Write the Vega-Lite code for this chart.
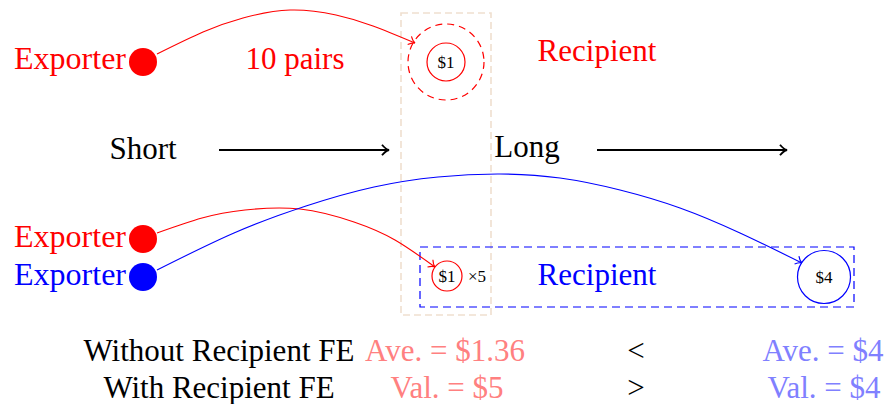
{
  "$schema": "https://vega.github.io/schema/vega-lite/v6.json",
  "width": 891,
  "height": 404,
  "autosize": {"type": "fit", "contains": "padding"},
  "padding": 0,
  "background": "white",
  "config": {"view": {"stroke": null}, "text": {"font": "Liberation Serif"}},
  "datasets": {
    "boxes": [
      {"box": "long window", "x": 401, "x2": 491, "y": 13, "y2": 315},
      {"box": "recipient group", "x": 420, "x2": 854, "y": 247, "y2": 307}
    ],
    "curves": [
      {"curve": "pairs", "tone": "red", "t": 0, "x": 157, "y": 54},
      {"curve": "pairs", "tone": "red", "t": 1, "x": 203, "y": 32},
      {"curve": "pairs", "tone": "red", "t": 2, "x": 243, "y": 18},
      {"curve": "pairs", "tone": "red", "t": 3, "x": 290, "y": 10},
      {"curve": "pairs", "tone": "red", "t": 4, "x": 336, "y": 15},
      {"curve": "pairs", "tone": "red", "t": 5, "x": 373, "y": 26},
      {"curve": "pairs", "tone": "red", "t": 6, "x": 415, "y": 43},
      {"curve": "short", "tone": "red", "t": 0, "x": 157, "y": 233},
      {"curve": "short", "tone": "red", "t": 1, "x": 202, "y": 218},
      {"curve": "short", "tone": "red", "t": 2, "x": 245, "y": 210},
      {"curve": "short", "tone": "red", "t": 3, "x": 300, "y": 209},
      {"curve": "short", "tone": "red", "t": 4, "x": 354, "y": 222},
      {"curve": "short", "tone": "red", "t": 5, "x": 395, "y": 240},
      {"curve": "short", "tone": "red", "t": 6, "x": 435, "y": 267},
      {"curve": "long", "tone": "blue", "t": 0, "x": 157, "y": 270},
      {"curve": "long", "tone": "blue", "t": 1, "x": 234, "y": 233},
      {"curve": "long", "tone": "blue", "t": 2, "x": 306, "y": 206},
      {"curve": "long", "tone": "blue", "t": 3, "x": 374, "y": 187},
      {"curve": "long", "tone": "blue", "t": 4, "x": 438, "y": 177},
      {"curve": "long", "tone": "blue", "t": 5, "x": 500, "y": 174},
      {"curve": "long", "tone": "blue", "t": 6, "x": 560, "y": 178},
      {"curve": "long", "tone": "blue", "t": 7, "x": 620, "y": 190},
      {"curve": "long", "tone": "blue", "t": 8, "x": 680, "y": 208},
      {"curve": "long", "tone": "blue", "t": 9, "x": 740, "y": 233},
      {"curve": "long", "tone": "blue", "t": 10, "x": 802, "y": 263}
    ],
    "axisArrows": [
      {"arrow": "Short", "t": 0, "x": 219, "y": 150},
      {"arrow": "Short", "t": 1, "x": 389, "y": 150},
      {"arrow": "Long", "t": 0, "x": 597, "y": 150},
      {"arrow": "Long", "t": 1, "x": 787, "y": 150}
    ],
    "heads": [
      {"head": "pairs", "x": 415, "y": 43},
      {"head": "short", "x": 435, "y": 267},
      {"head": "long", "x": 802, "y": 263},
      {"head": "Short", "x": 389, "y": 150},
      {"head": "Long", "x": 787, "y": 150}
    ],
    "nodes": [
      {"node": "exporter 1", "kind": "exporter", "tone": "red", "x": 143, "y": 62},
      {"node": "exporter 2", "kind": "exporter", "tone": "red", "x": 143, "y": 239},
      {"node": "exporter 3", "kind": "exporter", "tone": "blue", "x": 143, "y": 277},
      {"node": "recipient pairs", "kind": "pairs", "tone": "red", "x": 446, "y": 62},
      {"node": "recipient 1", "kind": "small", "tone": "red", "x": 446, "y": 62},
      {"node": "recipient 2", "kind": "tiny", "tone": "red", "x": 447, "y": 276},
      {"node": "recipient 3", "kind": "large", "tone": "blue", "x": 824, "y": 277}
    ],
    "texts": [
      {"role": "exporter", "tone": "red", "x": 126, "y": 69, "label": "Exporter"},
      {"role": "exporter", "tone": "red", "x": 126, "y": 247, "label": "Exporter"},
      {"role": "exporter", "tone": "blue", "x": 126, "y": 285, "label": "Exporter"},
      {"role": "main", "tone": "red", "x": 295, "y": 69, "label": "10 pairs"},
      {"role": "main", "tone": "red", "x": 597, "y": 61, "label": "Recipient"},
      {"role": "main", "tone": "black", "x": 143, "y": 159, "label": "Short"},
      {"role": "main", "tone": "black", "x": 527, "y": 157, "label": "Long"},
      {"role": "main", "tone": "blue", "x": 597, "y": 285, "label": "Recipient"},
      {"role": "main", "tone": "black", "x": 219, "y": 361, "label": "Without Recipient FE"},
      {"role": "main", "tone": "black", "x": 219, "y": 398, "label": "With Recipient FE"},
      {"role": "main", "tone": "lightred", "x": 445, "y": 361, "label": "Ave. = $1.36"},
      {"role": "main", "tone": "lightred", "x": 447, "y": 398, "label": "Val. = $5"},
      {"role": "main", "tone": "black", "x": 636, "y": 361, "label": "<"},
      {"role": "main", "tone": "black", "x": 636, "y": 398, "label": ">"},
      {"role": "main", "tone": "lightblue", "x": 823, "y": 361, "label": "Ave. = $4"},
      {"role": "main", "tone": "lightblue", "x": 824, "y": 398, "label": "Val. = $4"},
      {"role": "value", "tone": "black", "x": 446, "y": 68, "label": "$1"},
      {"role": "value", "tone": "black", "x": 447, "y": 282, "label": "$1"},
      {"role": "value", "tone": "black", "x": 824, "y": 283, "label": "$4"},
      {"role": "multiplier", "tone": "black", "x": 477, "y": 282, "label": "×5"}
    ]
  },
  "encoding": {
    "x": {"field": "x", "type": "quantitative", "scale": {"domain": [0, 891], "nice": false, "zero": false}, "axis": null},
    "y": {"field": "y", "type": "quantitative", "scale": {"domain": [0, 404], "nice": false, "zero": false, "reverse": true}, "axis": null}
  },
  "layer": [
    {
      "data": {"name": "boxes"},
      "transform": [{"filter": "datum.box === 'long window'"}],
      "mark": {"type": "rect", "filled": false, "stroke": "#efdfcf", "strokeWidth": 1.6, "strokeDash": [7, 4]},
      "encoding": {"x2": {"field": "x2"}, "y2": {"field": "y2"}}
    },
    {
      "data": {"name": "boxes"},
      "transform": [{"filter": "datum.box === 'recipient group'"}],
      "mark": {"type": "rect", "filled": false, "stroke": "#0000ff", "strokeWidth": 1.2, "strokeDash": [8, 5]},
      "encoding": {"x2": {"field": "x2"}, "y2": {"field": "y2"}}
    },
    {
      "data": {"name": "curves"},
      "mark": {"type": "line", "interpolate": "natural", "strokeWidth": 1.1},
      "encoding": {
        "detail": {"field": "curve"},
        "order": {"field": "t", "type": "quantitative"},
        "color": {"field": "tone", "type": "nominal", "legend": null,
          "scale": {"domain": ["red", "blue", "black", "lightred", "lightblue"], "range": ["#ff0000", "#0000ff", "#000000", "#ff8080", "#8080ff"]}}
      }
    },
    {
      "data": {"name": "axisArrows"},
      "mark": {"type": "line", "color": "#000000", "strokeWidth": 1.9},
      "encoding": {"detail": {"field": "arrow"}, "order": {"field": "t", "type": "quantitative"}}
    },
    {
      "data": {"name": "heads"},
      "transform": [{"filter": "datum.head === 'pairs'"}],
      "mark": {"type": "point", "shape": "M -1 -0.75 Q -0.45 -0.1 0 0 Q -0.45 0.1 -1 0.75", "filled": false, "color": "#ff0000", "strokeWidth": 1.1, "size": 144, "angle": 25, "opacity": 1}
    },
    {
      "data": {"name": "heads"},
      "transform": [{"filter": "datum.head === 'short'"}],
      "mark": {"type": "point", "shape": "M -1 -0.75 Q -0.45 -0.1 0 0 Q -0.45 0.1 -1 0.75", "filled": false, "color": "#ff0000", "strokeWidth": 1.1, "size": 144, "angle": 37, "opacity": 1}
    },
    {
      "data": {"name": "heads"},
      "transform": [{"filter": "datum.head === 'long'"}],
      "mark": {"type": "point", "shape": "M -1 -0.75 Q -0.45 -0.1 0 0 Q -0.45 0.1 -1 0.75", "filled": false, "color": "#0000ff", "strokeWidth": 1.1, "size": 144, "angle": 29, "opacity": 1}
    },
    {
      "data": {"name": "heads"},
      "transform": [{"filter": "datum.head === 'Short' || datum.head === 'Long'"}],
      "mark": {"type": "point", "shape": "M -1 -0.75 Q -0.45 -0.1 0 0 Q -0.45 0.1 -1 0.75", "filled": false, "color": "#000000", "strokeWidth": 1.9, "size": 196, "angle": 0, "opacity": 1}
    },
    {
      "data": {"name": "nodes"},
      "transform": [{"filter": "datum.kind === 'exporter'"}],
      "mark": {"type": "point", "shape": "circle", "filled": true, "size": 784, "opacity": 1, "strokeWidth": 0},
      "encoding": {"color": {"field": "tone", "type": "nominal", "legend": null}}
    },
    {
      "data": {"name": "nodes"},
      "transform": [{"filter": "datum.kind === 'pairs'"}],
      "mark": {"type": "point", "shape": "circle", "filled": false, "size": 5776, "opacity": 1, "color": "#ff0000", "strokeWidth": 1.2, "strokeDash": [7, 5]}
    },
    {
      "data": {"name": "nodes"},
      "transform": [{"filter": "datum.kind === 'small'"}],
      "mark": {"type": "point", "shape": "circle", "filled": false, "size": 1444, "opacity": 1, "color": "#ff0000", "strokeWidth": 1.2}
    },
    {
      "data": {"name": "nodes"},
      "transform": [{"filter": "datum.kind === 'tiny'"}],
      "mark": {"type": "point", "shape": "circle", "filled": false, "size": 900, "opacity": 1, "color": "#ff0000", "strokeWidth": 1.2}
    },
    {
      "data": {"name": "nodes"},
      "transform": [{"filter": "datum.kind === 'large'"}],
      "mark": {"type": "point", "shape": "circle", "filled": false, "size": 2809, "opacity": 1, "color": "#0000ff", "strokeWidth": 1.2}
    },
    {
      "data": {"name": "texts"},
      "transform": [{"filter": "datum.role === 'exporter'"}],
      "mark": {"type": "text", "font": "Liberation Serif", "align": "right", "baseline": "alphabetic", "fontSize": 32},
      "encoding": {"text": {"field": "label"}, "color": {"field": "tone", "type": "nominal", "legend": null}}
    },
    {
      "data": {"name": "texts"},
      "transform": [{"filter": "datum.role === 'main'"}],
      "mark": {"type": "text", "font": "Liberation Serif", "align": "center", "baseline": "alphabetic", "fontSize": 31},
      "encoding": {"text": {"field": "label"}, "color": {"field": "tone", "type": "nominal", "legend": null}}
    },
    {
      "data": {"name": "texts"},
      "transform": [{"filter": "datum.role === 'value'"}],
      "mark": {"type": "text", "font": "Liberation Serif", "align": "center", "baseline": "alphabetic", "fontSize": 17},
      "encoding": {"text": {"field": "label"}, "color": {"field": "tone", "type": "nominal", "legend": null}}
    },
    {
      "data": {"name": "texts"},
      "transform": [{"filter": "datum.role === 'multiplier'"}],
      "mark": {"type": "text", "font": "Liberation Serif", "align": "center", "baseline": "alphabetic", "fontSize": 17},
      "encoding": {"text": {"field": "label"}, "color": {"field": "tone", "type": "nominal", "legend": null}}
    }
  ]
}
